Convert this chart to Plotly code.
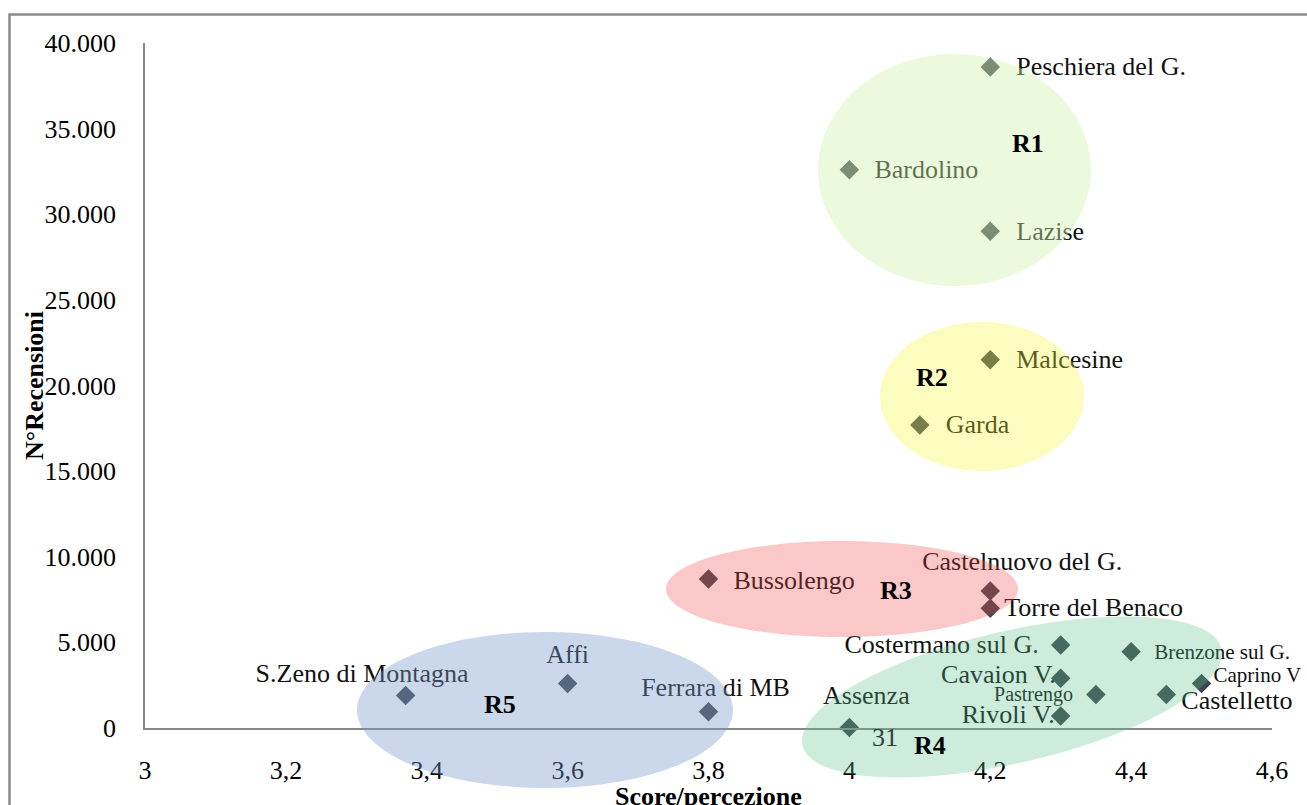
import numpy as np
import plotly.graph_objects as go

# ---- data: comuni, punteggio medio (score/percezione) e numero di recensioni
comuni = ["Peschiera del G.", "Bardolino", "Lazise", "Malcesine", "Garda",
          "Bussolengo", "Castelnuovo del G.", "Torre del Benaco",
          "Costermano sul G.", "Brenzone sul G.", "Cavaion V.", "Caprino V",
          "Pastrengo", "Castelletto", "Rivoli V.", "Assenza",
          "S.Zeno di Montagna", "Affi", "Ferrara di MB"]
score = [4.2, 4.0, 4.2, 4.2, 4.1,
         3.8, 4.2, 4.2,
         4.3, 4.4, 4.3, 4.5,
         4.35, 4.45, 4.3, 4.0,
         3.37, 3.6, 3.8]
recensioni = [38600, 32600, 29000, 21500, 17700,
              8700, 8000, 7000,
              4850, 4450, 2900, 2600,
              1950, 1950, 700, 31,
              1900, 2600, 950]

x_ticks = [3, 3.2, 3.4, 3.6, 3.8, 4, 4.2, 4.4, 4.6]
y_ticks = [0, 5000, 10000, 15000, 20000, 25000, 30000, 35000, 40000]

# ---- canvas geometry (pixels)
W, H = 1307, 805
ML, MR, MT, MB = 145, 35, 43, 77
PW, PH = W - ML - MR, H - MT - MB
X0, X1 = x_ticks[0], x_ticks[-1]
Y0, Y1 = y_ticks[0], y_ticks[-1]


def dpx(x):
    return ML + (x - X0) / (X1 - X0) * PW


def dpy(y):
    return MT + PH - (y - Y0) / (Y1 - Y0) * PH


def pdx(px):
    return X0 + (px - ML) / PW * (X1 - X0)


def pdy(py):
    return Y0 + (MT + PH - py) / PH * (Y1 - Y0)


def ppx(px):
    return (px - ML) / PW


def ppy(py):
    return (MT + PH - py) / PH


# label placement: pixel offset from the marker, anchor side, font size
label_style = {
    "Peschiera del G.": (26, 2, "middle right", 26),
    "Bardolino": (25, 2, "middle right", 26),
    "Lazise": (26, 2, "middle right", 26),
    "Malcesine": (26, 2, "middle right", 26),
    "Garda": (26, 2, "middle right", 26),
    "Bussolengo": (25, 3, "middle right", 26),
    "Castelnuovo del G.": (32, -28, "middle center", 26),
    "Torre del Benaco": (14, 1, "middle right", 26),
    "Costermano sul G.": (-22, 2, "middle left", 26),
    "Brenzone sul G.": (23, 2, "middle right", 21),
    "Cavaion V.": (-5, -2, "middle left", 26),
    "Caprino V": (12, -7, "middle right", 21),
    "Pastrengo": (-23, 1, "middle left", 20),
    "Castelletto": (15, 8, "middle right", 26),
    "Rivoli V.": (-6, 0, "middle left", 26),
    "Assenza": (17, -30, "middle center", 26),
    "S.Zeno di Montagna": (63, -20, "middle left", 26),
    "Affi": (0, -27, "middle center", 26),
    "Ferrara di MB": (7, -22, "middle center", 26),
}

SERIF = "Liberation Serif"
MARKER = "#3f464e"

fig = go.Figure()

fig.add_trace(go.Scatter(
    x=score, y=recensioni, mode="markers",
    marker=dict(symbol="diamond", size=15, color=MARKER, line=dict(width=0)),
    cliponaxis=False, hoverinfo="skip", showlegend=False,
))

lx, ly, lt, lp, ls = [], [], [], [], []
for name, sx, ry in zip(comuni, score, recensioni):
    dx, dy, pos, size = label_style[name]
    lx.append(pdx(dpx(sx) + dx))
    ly.append(pdy(dpy(ry) + dy))
    lt.append(name)
    lp.append(pos)
    ls.append(size)

fig.add_trace(go.Scatter(
    x=lx, y=ly, mode="text", text=lt, textposition=lp,
    textfont=dict(family=SERIF, size=ls, color="#111111"),
    cliponaxis=False, hoverinfo="skip", showlegend=False,
))

# value label for Assenza (sits below the axis, so it is placed on the paper)
ia = comuni.index("Assenza")
fig.add_annotation(
    x=ppx(dpx(score[ia]) + 36), y=ppy(dpy(recensioni[ia]) + 10),
    xref="paper", yref="paper", xanchor="center", yanchor="middle",
    text=f"{recensioni[ia]}", showarrow=False,
    font=dict(family=SERIF, size=26, color="#2c4338"),
)


# translucent cluster ellipses (pixel centre, semi-axes, tilt) drawn over the points
def ellipse_path(cx, cy, a, b, theta_deg=0.0, n=120):
    t = np.linspace(0, 2 * np.pi, n)
    th = np.radians(theta_deg)
    ex = cx + a * np.cos(t) * np.cos(th) - b * np.sin(t) * np.sin(th)
    ey = cy - (a * np.cos(t) * np.sin(th) + b * np.sin(t) * np.cos(th))
    pts = [f"{ppx(u):.5f},{ppy(v):.5f}" for u, v in zip(ex, ey)]
    return "M " + " L ".join(pts) + " Z"


clusters = [
    # (centre x, centre y, semi-axis a, semi-axis b, tilt, rgb, opacity)
    (954.5, 170, 136.5, 116, 0, "207,243,172", 0.42),
    (982, 396.5, 102, 74.5, 0, "245,245,52", 0.32),
    (842, 589, 176, 48, 0, "238,72,72", 0.30),
    (1012, 697, 215, 66, 13, "88,192,138", 0.30),
    (545, 710, 188, 78, 0, "122,155,204", 0.39),
]
for cx, cy, a, b, th, rgb, op in clusters:
    fig.add_shape(type="path", path=ellipse_path(cx, cy, a, b, th),
                  xref="paper", yref="paper", layer="above",
                  fillcolor=f"rgba({rgb},{op})", line=dict(width=0))

# region labels
regions = [("R1", 1028, 143), ("R2", 932, 377), ("R3", 896, 590),
           ("R4", 930, 745), ("R5", 500, 704)]
for txt, px, py in regions:
    fig.add_annotation(x=ppx(px), y=ppy(py), xref="paper", yref="paper",
                       xanchor="center", yanchor="middle", text=f"<b>{txt}</b>",
                       showarrow=False, font=dict(family=SERIF, size=26, color="#000000"))

# axis titles
fig.add_annotation(x=ppx(34), y=ppy(386), xref="paper", yref="paper",
                   xanchor="center", yanchor="middle",
                   text="<b>N°Recensioni</b>", textangle=-90, showarrow=False,
                   font=dict(family=SERIF, size=26, color="#000000"))
fig.add_annotation(x=ppx(708), y=ppy(796), xref="paper", yref="paper",
                   xanchor="center", yanchor="middle",
                   text="<b>Score/percezione</b>", showarrow=False,
                   font=dict(family=SERIF, size=26, color="#000000"))

# outer chart frame
fig.add_shape(type="rect", xref="paper", yref="paper", layer="below",
              x0=ppx(9.5), y0=ppy(830), x1=ppx(1330), y1=ppy(14.5),
              line=dict(color="#8a8a8a", width=2.5), fillcolor="rgba(0,0,0,0)")

fig.update_layout(
    width=W, height=H,
    margin=dict(l=ML, r=MR, t=MT, b=MB, pad=0),
    paper_bgcolor="white", plot_bgcolor="white",
    separators=",.",
    showlegend=False,
    font=dict(family=SERIF, size=26, color="#000000"),
)
fig.update_xaxes(
    range=[X0, X1], tickvals=x_ticks, showgrid=False, zeroline=False,
    showline=True, linecolor="#878787", linewidth=1.5,
    ticks="outside", ticklen=18, tickcolor="rgba(0,0,0,0)",
    tickfont=dict(family=SERIF, size=26, color="#000000"),
)
fig.update_yaxes(
    range=[Y0, Y1], tickvals=y_ticks, tickformat=",d", showgrid=False, zeroline=False,
    showline=True, linecolor="#878787", linewidth=1.5,
    ticks="outside", ticklen=22, tickcolor="rgba(0,0,0,0)",
    tickfont=dict(family=SERIF, size=26, color="#000000"),
)

fig.write_html("out.html")
